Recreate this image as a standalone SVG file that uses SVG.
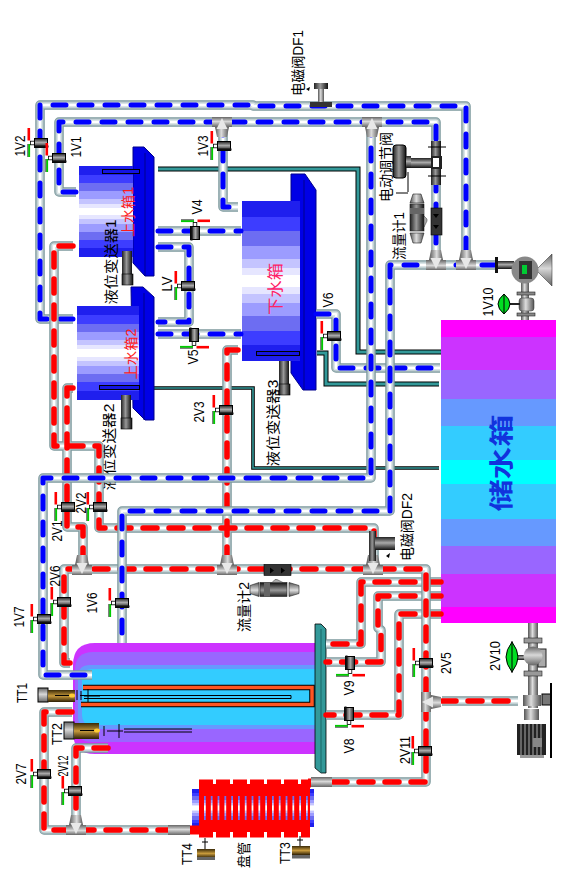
<svg xmlns="http://www.w3.org/2000/svg" width="576" height="888" viewBox="0 0 576 888">
<style>
text{font-family:"Liberation Sans","Noto Sans CJK SC",sans-serif;font-size:14px;text-anchor:middle;fill:#000}
.cj{font-size:14px}
.red{fill:#ff1a1a}
.c1{fill:none;stroke:#7c999d;stroke-width:9.5;stroke-linejoin:round}
.c2{fill:none;stroke:#a9bcc0;stroke-width:7.5;stroke-linejoin:round}
.c3{fill:none;stroke:#dbe5e7;stroke-width:5;stroke-linejoin:round}
.c4{fill:none;stroke:#fff;stroke-width:2;stroke-linejoin:round}
.db{fill:none;stroke:#0000ff;stroke-width:5;stroke-dasharray:13 13;stroke-linecap:round;stroke-linejoin:round}
.dr{fill:none;stroke:#ff0000;stroke-width:5.5;stroke-dasharray:14 12;stroke-linecap:round;stroke-linejoin:round}
.t1{fill:none;stroke:#000;stroke-width:5}
.t2{fill:none;stroke:#339999;stroke-width:3}
.tankb{fill:#0000e6;stroke:#00008c;stroke-width:1}
.sens{fill:#1414e0;stroke:#000;stroke-width:1}
.ln{stroke:#000;stroke-width:1;fill:none}
.mh{fill:url(#metalH)}
.mv{fill:url(#metalV)}
</style>
<defs>
<linearGradient id="metalH"><stop offset="0" stop-color="#555"/><stop offset=".45" stop-color="#ddd"/><stop offset="1" stop-color="#555"/></linearGradient>
<linearGradient id="metalV" x2="0" y2="1"><stop offset="0" stop-color="#666"/><stop offset=".45" stop-color="#d8d8d8"/><stop offset="1" stop-color="#666"/></linearGradient>
<linearGradient id="darkH"><stop offset="0" stop-color="#222"/><stop offset=".45" stop-color="#999"/><stop offset="1" stop-color="#111"/></linearGradient>
<linearGradient id="darkV" x2="0" y2="1"><stop offset="0" stop-color="#222"/><stop offset=".45" stop-color="#aaa"/><stop offset="1" stop-color="#111"/></linearGradient>
<linearGradient id="brass" x2="0" y2="1"><stop offset="0" stop-color="#3a2a08"/><stop offset=".5" stop-color="#c79a3c"/><stop offset="1" stop-color="#2c1e04"/></linearGradient>
<linearGradient id="tankG" x2="0" y2=".5" spreadMethod="reflect">
<stop offset="0" stop-color="#1f1fee"/><stop offset=".2" stop-color="#1f1fee"/>
<stop offset=".2" stop-color="#3d3dff"/><stop offset=".38" stop-color="#3d3dff"/>
<stop offset=".38" stop-color="#6d6df2"/><stop offset=".56" stop-color="#6d6df2"/>
<stop offset=".56" stop-color="#9c9cff"/><stop offset=".72" stop-color="#9c9cff"/>
<stop offset=".72" stop-color="#c4c4ff"/><stop offset=".84" stop-color="#c4c4ff"/>
<stop offset=".84" stop-color="#e6e6ff"/><stop offset=".92" stop-color="#e6e6ff"/>
<stop offset=".92" stop-color="#fff"/><stop offset="1" stop-color="#fff"/>
</linearGradient>
<g id="valve">
<rect x="-10.5" y="-1.8" width="4.5" height="3.6" fill="#fff" stroke="#000" stroke-width=".8"/>
<rect x="-13.5" y="-15" width="2.6" height="12.5" fill="#f00"/>
<rect x="-13.5" y="1" width="1" height="13" fill="#000"/><rect x="-12.7" y="1" width="1.8" height="13" fill="#0c0"/>
<rect x="-6.5" y="-4.5" width="13" height="9" fill="url(#darkV)" stroke="#000"/>
<rect x="-7" y="2.5" width="14.5" height="2" fill="#111"/>
</g>
<g id="tee">
<rect x="-10" y="-5" width="20" height="10" fill="url(#metalV)"/>
<polygon points="-7,5 7,5 5,15 -5,15" fill="url(#metalH)"/>
<polygon points="0,-4 -5.5,7 5.5,7" fill="#e8e8e8"/>
</g>
<g id="flow">
<rect x="-6" y="-14" width="11" height="27" fill="#333" stroke="#000" stroke-width=".6"/>
<polygon points="-4,-8 2,-8 -1,-4" fill="#000"/><polygon points="-4,3 2,3 -1,7" fill="#000"/>
<rect x="-27" y="-18" width="14" height="27" fill="url(#darkH)" stroke="#222" stroke-width=".6"/>
<rect x="-27" y="-14" width="14" height="6" fill="#666"/>
<polygon points="-27,-19 -13,-19 -16,-28 -24,-28" fill="url(#metalH)" stroke="#222" stroke-width=".6"/>
<polygon points="-27,11 -13,11 -16,21 -24,21" fill="url(#metalH)" stroke="#222" stroke-width=".6"/>
<polygon points="-13,-6 -10,-3 -10,-1 -13,5" fill="#aaa" stroke="#333" stroke-width=".5"/>
</g>
<g id="pL1">
<path d="M73 319H40V105H253V106H466V265"/>
<path d="M316 314H336V368H440"/>
</g>
<g id="pL2">
<path d="M441 582H361V644H326"/>
<path d="M441 596H378V628L381 630V662H326"/>
<path d="M441 614H399V715H326"/>
</g>
<g id="pL3">
<path d="M73 246H54V446H99V528H374V569"/>
<path d="M73 388H67V527H83V569"/>
<path d="M238 350H227V569"/>
<path d="M70 663H64V569H426V782H332"/>
<path d="M442 701H518"/>
<path d="M72 712H44V830H168"/>
<path d="M108 748H76V830"/>
</g>
<g id="pL4">
<path d="M76 192H59V122H436V265"/>
<path d="M223 122V207H238"/>
<path d="M371 122V478H43V675H92"/>
<path d="M495 265H390V511H122V643"/>
<path d="M158 231H241"/>
<path d="M158 334H241"/>
<path d="M158 247H189V322H158"/>
</g>
</defs>

<g id="storage-tank">
<rect x="441" y="320" width="115" height="303" fill="#ff00ff"/>
<rect x="441" y="337" width="115" height="270" fill="#cc33ff"/>
<rect x="441" y="370" width="115" height="204" fill="#9966ff"/>
<rect x="441" y="399" width="115" height="147" fill="#6699ff"/>
<rect x="441" y="426" width="115" height="93" fill="#33ccff"/>
<rect x="441" y="460" width="115" height="24" fill="#00ffff"/>
<text transform="translate(510,463) rotate(-90)" style="font-size:24px;font-weight:bold;fill:#1133dd" textLength="97" lengthAdjust="spacingAndGlyphs">储水箱</text>
</g>

<g id="teal-lines">
<path class="t1" d="M158 169H358V352H441"/><path class="t2" d="M158 169H358V352H441"/>
<path class="t1" d="M317 353H326V384H439"/><path class="t2" d="M317 353H326V384H439"/>
<path class="t1" d="M152 388H253V468H439" style="stroke-width:3.6"/><path class="t2" d="M152 388H253V468H439" style="stroke-width:1.6"/>
</g>

<g id="tank-1">
<polygon class="tankb" points="133,147 144,147 154,157 154,276 145,276 133,263"/>
<path d="M145 153V276" stroke="#00008c" stroke-width="1"/>
<rect x="79" y="166" width="54" height="91" fill="url(#tankG)"/>
<rect class="sens" x="102.500" y="169.500" width="37" height="4"/>
<text class="cj red" transform="translate(133,212) rotate(-90)" textLength="50" lengthAdjust="spacingAndGlyphs">上水箱1</text>
</g>
<g id="tank-2">
<polygon class="tankb" points="131,287 143,287 154,297 154,420 145,420 133,408"/>
<path d="M144 293V420" stroke="#00008c" stroke-width="1"/>
<rect x="77" y="306" width="62" height="94" fill="url(#tankG)"/>
<rect class="sens" x="99.500" y="385.500" width="40" height="4"/>
<text class="cj red" transform="translate(136,354) rotate(-90)" textLength="51" lengthAdjust="spacingAndGlyphs">上水箱2</text>
</g>
<g id="tank-3">
<polygon class="tankb" points="291,174 305,174 316,190 316,390 303,390 291,373"/>
<path d="M304 180V390" stroke="#00008c" stroke-width="1"/>
<rect x="242" y="201" width="58" height="160" fill="url(#tankG)"/>
<rect class="sens" x="256.500" y="351.500" width="43" height="4"/>
<text class="cj" transform="translate(281,289) rotate(-90)" style="font-size:16px;fill:#ff2266" textLength="52" lengthAdjust="spacingAndGlyphs">下水箱</text>
</g>
<g id="lt-1">
<rect x="122" y="251" width="10" height="25" fill="url(#darkH)"/><rect x="122" y="274" width="11" height="11" fill="url(#darkH)" stroke="#000" stroke-width=".6"/>
<text class="cj" transform="translate(116,262) rotate(-90)" textLength="85" lengthAdjust="spacingAndGlyphs">液位变送器1</text>
</g>
<g id="lt-2">
<rect x="121" y="395" width="10" height="23" fill="url(#darkH)"/><rect x="121" y="418" width="11" height="11" fill="url(#darkH)" stroke="#000" stroke-width=".6"/>
<text class="cj" transform="translate(114,447) rotate(-90)" textLength="87" lengthAdjust="spacingAndGlyphs">液位变送器2</text>
</g>
<g id="lt-3">
<rect x="279" y="361" width="10" height="23" fill="url(#darkH)"/><rect x="279" y="384" width="11" height="11" fill="url(#darkH)" stroke="#000" stroke-width=".6"/>
<text class="cj" transform="translate(278,423) rotate(-90)" textLength="87" lengthAdjust="spacingAndGlyphs">液位变送器3</text>
</g>

<g id="heater">
<path d="M317 643H95Q73 643 73 665V732Q73 754 95 754H317Z" fill="#cc33ff"/>
<path d="M317 652H93Q75 652 75 670V724Q75 742 93 742H317Z" fill="#9966ff"/>
<path d="M317 665H90Q78 665 78 677V717Q78 729 90 729H317Z" fill="#6699ff"/>
<path d="M317 669H92Q82 669 82 679V715Q82 725 92 725H317Z" fill="#33ccff"/>
<path d="M83 687.500H312V704.500H81" fill="none" stroke="#000" stroke-width="5.500"/>
<path d="M83 687.500H312V704.500H81" fill="none" stroke="#ff5522" stroke-width="3.500"/>
<path d="M80 695.500H291V698.500H84" class="ln"/>
</g>
<g id="plate">
<polygon points="315,624 321,624 326,629 326,773 321,773 315,768" fill="#339999" stroke="#000" stroke-width=".8"/>
<path d="M321 629V773" stroke="#1a6666" stroke-width="1"/>
</g>
<g id="coil">
<rect x="192" y="789" width="122" height="38" fill="url(#tankG)"/>
<path d="M199 808H310" stroke="#f00" stroke-width="30" stroke-dasharray="5 1.800"/>
<path d="M199 790H310M199 826H310" stroke="#f00" stroke-width="12"/>
<path d="M199 783H310M199 834H310" stroke="#f00" stroke-width="7" stroke-dasharray="14 3"/>
<path d="M190 830H199" stroke="#f00" stroke-width="9"/><path d="M308 783H311" stroke="#f00" stroke-width="9"/>
<text class="cj" transform="translate(249,855) rotate(-90)" textLength="26" lengthAdjust="spacingAndGlyphs">盘管</text>
</g>

<g id="connectors">
<use href="#pL1" class="c1"/><use href="#pL1" class="c2"/><use href="#pL1" class="c3"/><use href="#pL1" class="c4"/><use href="#pL1" class="db"/>
<use href="#pL2" class="c1"/><use href="#pL2" class="c2"/><use href="#pL2" class="c3"/><use href="#pL2" class="c4"/><use href="#pL2" class="dr"/>
<use href="#pL3" class="c1"/><use href="#pL3" class="c2"/><use href="#pL3" class="c3"/><use href="#pL3" class="c4"/><use href="#pL3" class="dr"/>
<use href="#pL4" class="c1"/><use href="#pL4" class="c2"/><use href="#pL4" class="c3"/><use href="#pL4" class="c4"/><use href="#pL4" class="db"/>
</g>

<g id="tees">
<use href="#tee" transform="translate(222,122)"/>
<use href="#tee" transform="translate(372,122)"/>
<use href="#tee" transform="translate(436,265) rotate(180)"/>
<use href="#tee" transform="translate(466,265) rotate(180)"/>
<use href="#tee" transform="translate(82,570) rotate(180)"/>
<use href="#tee" transform="translate(227,570) rotate(180)"/>
<use href="#tee" transform="translate(373,570) rotate(180)"/>
<use href="#tee" transform="translate(76,830) rotate(180)"/>
<use href="#tee" transform="translate(426,702) rotate(-90)"/>
<rect x="168" y="825" width="22" height="10" class="mv"/>
<rect x="311" y="777" width="21" height="10" class="mv"/>
</g>

<g id="v-1V2"><use href="#valve" transform="translate(41,143)"/><text transform="translate(25,146) rotate(-90)" textLength="21" lengthAdjust="spacingAndGlyphs">1V2</text></g>
<g id="v-1V1"><use href="#valve" transform="translate(59,158)"/><text transform="translate(81,147) rotate(-90)" textLength="21" lengthAdjust="spacingAndGlyphs">1V1</text></g>
<g id="v-1V3"><use href="#valve" transform="translate(224,146)"/><text transform="translate(208,146) rotate(-90)" textLength="21" lengthAdjust="spacingAndGlyphs">1V3</text></g>
<g id="v-V4"><use href="#valve" transform="translate(195,233) rotate(90)"/><text transform="translate(202,207) rotate(-90)" textLength="15" lengthAdjust="spacingAndGlyphs">V4</text></g>
<g id="v-LV"><use href="#valve" transform="translate(188,286)"/><text transform="translate(172,284) rotate(-90)" textLength="15" lengthAdjust="spacingAndGlyphs">LV</text></g>
<g id="v-V5"><use href="#valve" transform="translate(194,335) rotate(-90) scale(1,-1)"/><text transform="translate(198,357) rotate(-90)" textLength="15" lengthAdjust="spacingAndGlyphs">V5</text></g>
<g id="v-2V3"><use href="#valve" transform="translate(226,410)"/><text transform="translate(204,412) rotate(-90)" textLength="21" lengthAdjust="spacingAndGlyphs">2V3</text></g>
<g id="v-2V1"><use href="#valve" transform="translate(68,507)"/><text transform="translate(62,531) rotate(-90)" textLength="21" lengthAdjust="spacingAndGlyphs">2V1</text></g>
<g id="v-2V2"><use href="#valve" transform="translate(100,507)"/><text transform="translate(86,503) rotate(-90)" textLength="21" lengthAdjust="spacingAndGlyphs">2V2</text></g>
<g id="v-V6"><use href="#valve" transform="translate(334,336)"/><text transform="translate(333,300) rotate(-90)" textLength="15" lengthAdjust="spacingAndGlyphs">V6</text></g>
<g id="v-2V6"><use href="#valve" transform="translate(64,602)"/><text transform="translate(60,576) rotate(-90)" textLength="21" lengthAdjust="spacingAndGlyphs">2V6</text></g>
<g id="v-1V6"><use href="#valve" transform="translate(122,603)"/><text transform="translate(97,603) rotate(-90)" textLength="21" lengthAdjust="spacingAndGlyphs">1V6</text></g>
<g id="v-1V7"><use href="#valve" transform="translate(44,619)"/><text transform="translate(24,617) rotate(-90)" textLength="21" lengthAdjust="spacingAndGlyphs">1V7</text></g>
<g id="v-2V7"><use href="#valve" transform="translate(44,774)"/><text transform="translate(26,774) rotate(-90)" textLength="21" lengthAdjust="spacingAndGlyphs">2V7</text></g>
<g id="v-2V12"><use href="#valve" transform="translate(75,791)"/><text transform="translate(68,766) rotate(-90)" textLength="21" lengthAdjust="spacingAndGlyphs">2V12</text></g>
<g id="v-V9"><use href="#valve" transform="translate(350,663) rotate(-90) scale(1,-1)"/><text transform="translate(354,688) rotate(-90)" textLength="15" lengthAdjust="spacingAndGlyphs">V9</text></g>
<g id="v-V8"><use href="#valve" transform="translate(349,714) rotate(-90) scale(1,-1)"/><text transform="translate(354,746) rotate(-90)" textLength="15" lengthAdjust="spacingAndGlyphs">V8</text></g>
<g id="v-2V5"><use href="#valve" transform="translate(426,663)"/><text transform="translate(451,663) rotate(-90)" textLength="22" lengthAdjust="spacingAndGlyphs">2V5</text></g>
<g id="v-2V11"><use href="#valve" transform="translate(425,751)"/><text transform="translate(410,750) rotate(-90)" textLength="28" lengthAdjust="spacingAndGlyphs">2V11</text></g>

<g id="df1">
<rect x="318" y="85" width="6" height="18" class="mh"/>
<rect x="314" y="83" width="14" height="6" fill="url(#darkH)"/>
<rect x="310" y="102" width="22" height="5" fill="#333"/>
<polygon points="306,89 310,87 309,91" fill="#000"/>
<text class="cj" transform="translate(303,63) rotate(-90)" textLength="66" lengthAdjust="spacingAndGlyphs">电磁阀DF1</text>
</g>
<g id="df2">
<rect x="369" y="531" width="7" height="30" fill="url(#darkH)"/>
<rect x="375" y="537" width="20" height="13" fill="url(#darkV)"/>
<polygon points="386,556 390,553 389,558" fill="#000"/>
<text class="cj" transform="translate(412,527) rotate(-90)" textLength="68" lengthAdjust="spacingAndGlyphs">电磁阀DF2</text>
</g>
<g id="regulator">
<rect x="431" y="141" width="10" height="44" fill="url(#darkH)"/>
<rect x="431" y="156" width="11" height="13" fill="#222"/><rect x="433" y="158" width="6" height="9" fill="#fff"/>
<path class="ln" d="M428 147H446M428 176H446M408 172V192M396 193H408"/>
<rect x="393" y="145" width="13" height="33" rx="3" fill="url(#darkH)" stroke="#000"/>
<rect x="406" y="156" width="5" height="12" fill="url(#darkV)"/>
<rect x="411" y="158" width="20" height="10" fill="url(#darkV)"/>
<text class="cj" transform="translate(391,167) rotate(-90)" textLength="70" lengthAdjust="spacingAndGlyphs">电动调节阀</text>
</g>
<g id="flowmeter-1">
<use href="#flow" transform="translate(437,222)"/>
<text class="cj" transform="translate(404,236) rotate(-90)" textLength="48" lengthAdjust="spacingAndGlyphs">流量计1</text>
</g>
<g id="flowmeter-2">
<use href="#flow" transform="translate(278,569.500) rotate(-90)"/>
<text class="cj" transform="translate(249,607) rotate(-90)" textLength="50" lengthAdjust="spacingAndGlyphs">流量计2</text>
</g>
<g id="tt1">
<rect x="38" y="688" width="10" height="14" fill="url(#metalV)" stroke="#000"/>
<rect x="48" y="690" width="27" height="12" fill="url(#brass)"/>
<path class="ln" d="M55 695.500H70M77 690V700M81 691V700M88 689V702M84 696H100"/>
<ellipse cx="72" cy="695.500" rx="3" ry="2" fill="#ffcc33"/>
<text transform="translate(27,693) rotate(-90)" textLength="20" lengthAdjust="spacingAndGlyphs">TT1</text>
</g>
<g id="tt2">
<rect x="64" y="722" width="10" height="17" fill="url(#metalV)" stroke="#000"/>
<rect x="74" y="723" width="25" height="16" fill="url(#brass)"/>
<path class="ln" d="M80 730.500H95M104 726V736M119 724V738M107 731H123M124 729H192M124 732H192"/>
<ellipse cx="97" cy="730.500" rx="3" ry="2" fill="#ffcc33"/>
<text transform="translate(62,734) rotate(-90)" textLength="22" lengthAdjust="spacingAndGlyphs">TT2</text>
</g>
<g id="tt4">
<path class="ln" d="M205 838V849M202 842H208"/>
<rect x="197" y="849" width="18" height="9" fill="url(#brass)"/><rect x="197" y="857" width="18" height="3" fill="#666"/>
<text transform="translate(192,854) rotate(-90)" textLength="22" lengthAdjust="spacingAndGlyphs">TT4</text>
</g>
<g id="tt3">
<path class="ln" d="M300 836V846M297 840H303"/>
<rect x="292" y="846" width="18" height="9" fill="url(#brass)"/><rect x="292" y="855" width="18" height="3.500" fill="#666"/>
<text transform="translate(290,853) rotate(-90)" textLength="22" lengthAdjust="spacingAndGlyphs">TT3</text>
</g>
<g id="pump-1">
<rect x="495" y="257" width="3" height="16" fill="#111"/>
<rect x="498" y="261" width="16" height="8" fill="url(#darkV)"/>
<polygon points="536,270 552,254 552,286" fill="url(#metalV)" stroke="#222" stroke-width=".5"/>
<rect x="521" y="282" width="8" height="38" class="mh"/>
<circle cx="525" cy="270" r="13.500" fill="#888"/>
<rect x="519" y="261" width="13" height="18" fill="#333"/><rect x="522" y="265" width="5" height="9" fill="#0c3"/>
<rect x="517" y="292" width="18" height="3" fill="#888" stroke="#222" stroke-width=".6"/>
<rect x="517" y="313" width="18" height="3" fill="#888" stroke="#222" stroke-width=".6"/>
<rect x="519" y="298" width="15" height="13" rx="3" class="mh" stroke="#333" stroke-width=".5"/>
<rect x="509" y="303" width="11" height="2" fill="#222"/>
<path d="M504 294Q510 299 510 304Q510 309 504 314Q498 309 498 304Q498 299 504 294Z" fill="#00dd22" stroke="#000"/>
<path class="ln" d="M504 294V314"/>
<text transform="translate(493,302) rotate(-90)" textLength="29" lengthAdjust="spacingAndGlyphs">1V10</text>
</g>
<g id="pump-2">
<rect x="528" y="623" width="10" height="85" class="mh"/>
<rect x="524" y="638" width="18" height="5" fill="#999" stroke="#222" stroke-width=".6"/>
<rect x="524" y="671" width="18" height="5" fill="#999" stroke="#222" stroke-width=".6"/>
<rect x="517" y="655" width="12" height="5" fill="url(#darkV)"/>
<rect x="538" y="649" width="8" height="18" fill="#aaa" stroke="#222"/>
<circle cx="533" cy="656" r="9.500" fill="url(#metalV)"/>
<path d="M512 642Q518 650 518 657Q518 664 512 672Q506 664 506 657Q506 650 512 642Z" fill="#00dd22" stroke="#000"/>
<path class="ln" d="M512 641V673"/>
<rect x="523" y="695" width="18" height="11" class="mh"/>
<rect x="524" y="709" width="15" height="11" class="mh"/>
<rect x="542" y="694" width="9" height="11" fill="#777" stroke="#000"/>
<rect x="517" y="724" width="29" height="31" fill="#222"/>
<path d="M521 724V755M525 724V755M529 724V755M533 724V755M537 724V755M541 724V755" stroke="#aaa" stroke-width="1"/>
<rect x="533" y="738" width="9" height="9" fill="#888"/>
<rect x="520" y="755" width="24" height="3" fill="#999"/>
<path d="M551 683V758" stroke="#000" stroke-width="2"/>
<text transform="translate(500,656) rotate(-90)" textLength="30" lengthAdjust="spacingAndGlyphs">2V10</text>
</g>
</svg>
